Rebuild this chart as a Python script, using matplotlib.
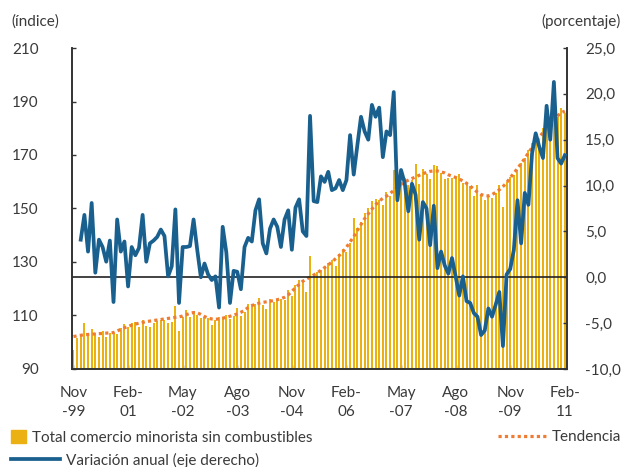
import numpy as np
import matplotlib.pyplot as plt
from matplotlib.patches import Patch
from matplotlib.lines import Line2D

plt.rcParams['font.family'] = ['Lato', 'DejaVu Sans']

# índice, nov-99 a feb-11 (mensual)
comercio = [
    97.1, 101.6, 103.0, 107.1, 102.3, 105.0, 103.6, 102.1, 104.2, 102.1, 103.6, 103.4,
    103.1, 105.2, 106.7, 105.8, 107.3, 107.7, 105.8, 108.3, 106.2, 105.8, 107.3, 108.1,
    108.3, 108.3, 107.1, 107.7, 113.6, 104.2, 109.6, 112.1, 109.6, 111.4, 110.2, 109.0,
    109.6, 109.0, 106.5, 108.3, 109.6, 109.6, 110.2, 108.6, 109.8, 112.7, 109.8, 111.4,
    114.3, 113.6, 114.3, 116.4, 113.9, 112.3, 116.1, 115.2, 116.1, 116.1, 115.8, 119.5,
    117.3, 121.4, 123.3, 123.3, 118.7, 132.3, 124.9, 126.4, 127.0, 128.5, 129.5, 130.8,
    128.5, 132.9, 134.8, 133.9, 137.0, 146.6, 142.6, 145.1, 148.4, 150.1, 152.9, 153.4,
    153.2, 151.3, 156.3, 154.7, 164.4, 158.4, 159.2, 161.3, 158.8, 160.7, 166.6, 159.2,
    164.6, 162.8, 161.0, 166.3, 165.9, 163.2, 161.0, 161.5, 161.3, 161.9, 162.8, 159.4,
    160.0, 158.4, 154.7, 158.8, 155.1, 153.2, 155.1, 154.0, 155.7, 158.8, 150.7, 160.0,
    161.9, 162.5, 164.4, 167.1, 168.8, 171.9, 174.6, 177.5, 175.6, 180.0, 181.9, 183.1,
    186.2, 184.3, 187.5, 185.8,
]

tendencia = [
    102.1, 102.4, 102.6, 102.8, 102.9, 103.0, 103.1, 103.2, 103.3, 103.4, 103.5, 103.6,
    104.2, 104.8, 105.4, 105.9, 106.4, 106.8, 107.1, 107.4, 107.7, 107.9, 108.1, 108.3,
    108.5, 108.7, 108.9, 109.1, 109.3, 109.5, 109.8, 110.3, 110.8, 111.1, 111.0, 110.4,
    109.6, 109.0, 108.7, 108.6, 108.7, 109.0, 109.3, 109.7, 110.1, 110.6, 111.2, 111.9,
    113.0, 113.7, 114.2, 114.6, 114.9, 115.1, 115.3, 115.6, 115.9, 116.3, 116.8, 117.7,
    119.0, 120.4, 121.6, 122.8, 123.6, 124.3, 125.1, 126.0, 126.9, 127.9, 128.9, 130.0,
    131.2, 132.4, 133.8, 135.5, 137.5, 139.5, 141.8, 144.0, 146.2, 148.0, 149.8, 151.4,
    152.8, 153.8, 154.6, 155.6, 156.8, 157.9, 159.0, 159.9, 160.6, 161.2, 161.8, 162.4,
    163.0, 163.5, 163.9, 164.0, 164.0, 163.7, 163.3, 162.6, 162.1, 161.6, 161.0, 160.3,
    159.4, 158.4, 157.2, 156.1, 155.2, 154.8, 154.7, 155.2, 156.0, 157.0, 158.2, 159.6,
    161.5, 163.2, 165.0, 166.8, 168.7, 170.8, 172.8, 174.8, 176.6, 178.4, 180.1, 181.8,
    183.3, 184.6, 185.8, 186.4,
]

# variación anual (%), eje derecho
variacion = [
    np.nan, np.nan, 4.1, 6.8, 2.8, 8.1, 0.5, 4.1, 3.3, 1.7, 4.0, -2.7,
    6.3, 2.8, 3.9, -1.0, 3.3, 2.4, 3.2, 6.8, 1.7, 3.7, 4.0, 4.4,
    5.2, 4.5, 0.1, 1.2, 7.4, -2.8, 3.3, 3.3, 3.4, 6.3, 3.0, 0.0,
    1.5, 0.3, -0.3, 0.1, -3.3, 5.5, 2.7, -2.8, 0.7, 0.6, -1.3, 3.3,
    4.3, 3.9, 7.3, 8.5, 3.7, 2.6, 5.3, 6.3, 5.5, 3.3, 6.3, 7.3,
    3.0, 7.6, 8.5, 5.0, 4.5, 17.6, 8.3, 8.2, 11.0, 10.4, 11.5, 9.5,
    9.7, 10.6, 9.5, 10.6, 15.5, 11.2, 14.4, 17.5, 15.9, 15.0, 18.8, 17.5,
    18.5, 13.1, 15.9, 15.5, 20.2, 8.4, 11.7, 10.3, 7.2, 10.2, 9.0, 4.1,
    8.2, 7.5, 3.5, 7.8, 1.0, 2.8, 1.3, 0.4, 2.1, 0.1, -2.0, 0.1,
    -2.6, -2.8, -3.9, -4.3, -6.3, -5.8, -3.4, -4.3, -3.0, -1.6, -7.5, 0.3,
    0.9, 3.0, 8.4, 3.7, 9.2, 7.9, 13.5, 15.7, 14.2, 13.0, 18.7, 15.0,
    21.3, 13.0, 12.4, 13.3,
]

tick_pos = [0, 15, 30, 45, 60, 75, 90, 105, 120, 135]
tick_labels = ['Nov\n-99', 'Feb-\n01', 'May\n-02', 'Ago\n-03', 'Nov\n-04',
               'Feb-\n06', 'May\n-07', 'Ago\n-08', 'Nov\n-09', 'Feb-\n11']

c_bar = '#EBB012'
c_trend = '#EE7D33'
c_line = '#19608F'
c_text = '#3a3a3a'
fs = 11

x = np.arange(len(comercio))

fig = plt.figure(figsize=(6.23, 4.67), dpi=100)
ax = fig.add_axes([0.1156, 0.2099, 0.7945, 0.6873])
ax2 = ax.twinx()

ax.bar(x, np.array(comercio) - 90, bottom=90, width=0.55, color=c_bar, zorder=2)
ax.plot(x, tendencia, color=c_trend, lw=2.3, linestyle=(0, (1, 1)), zorder=3)

ax2.axhline(0, color='#222222', lw=1.2, zorder=1)
ax2.plot(x, variacion, color=c_line, lw=2.7, solid_joinstyle='round', zorder=4)

ax.set_xlim(-0.4, 135.6)
ax.set_ylim(90, 210)
ax.set_yticks(range(90, 211, 20))
ax2.set_ylim(-10, 25)
ax2.set_yticks(range(-10, 26, 5))
ax2.set_yticklabels([f'{v:.1f}'.replace('.', ',') for v in range(-10, 26, 5)])
ax.set_xticks(tick_pos)
ax.set_xticklabels(tick_labels)

for a in (ax, ax2):
    a.spines['top'].set_visible(False)
    for s in ('left', 'right', 'bottom'):
        a.spines[s].set_color('#333333')
        a.spines[s].set_linewidth(1.2)
    a.tick_params(direction='in', length=3, width=1, colors='#333333',
                  labelcolor=c_text, labelsize=fs)

ax.tick_params(axis='y', pad=24)
ax.tick_params(axis='x', pad=12)
ax2.tick_params(axis='y', pad=13)
for lbl in ax.get_xticklabels():
    lbl.set_linespacing(1.5)

fig.text(0.019, 0.953, '(índice)', fontsize=fs, color=c_text, va='center')
fig.text(0.997, 0.953, '(porcentaje)', fontsize=fs, color=c_text, va='center', ha='right')

leg_kw = dict(frameon=False, fontsize=fs, labelcolor=c_text, borderpad=0,
              borderaxespad=0, handletextpad=0.4)
fig.legend([Patch(color=c_bar)], ['Total comercio minorista sin combustibles'],
           loc='center left', bbox_to_anchor=(0.018, 0.064),
           handlelength=0.95, handleheight=0.95, **leg_kw)
fig.legend([Line2D([], [], color=c_trend, lw=2.3, linestyle=(0, (1, 1)))], ['Tendencia'],
           loc='center right', bbox_to_anchor=(0.997, 0.064),
           handlelength=3.1, **leg_kw)
fig.legend([Line2D([], [], color=c_line, lw=2.7)], ['Variación anual (eje derecho)'],
           loc='center left', bbox_to_anchor=(0.018, 0.015),
           handlelength=3.2, **leg_kw)

fig.savefig('out.png', dpi=100)
